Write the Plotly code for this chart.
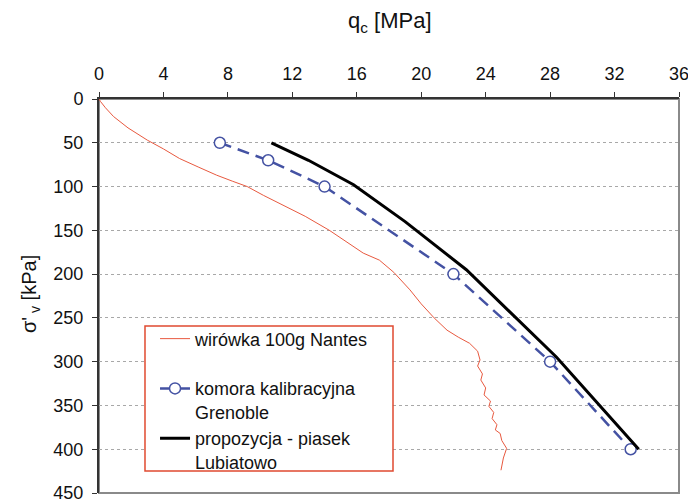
import plotly.graph_objects as go

# Data
red_q = [0, 0.1, 0.4, 0.9, 1.8, 3.0, 4.0, 5.0, 6.2, 7.3, 8.3, 9.2, 10.2, 11.2, 12.8, 14.3, 15.4, 16.4,
         17.4, 18.3, 19.3, 20.0, 20.8, 21.6, 22.3, 23.0, 23.5, 23.65, 23.5, 23.8, 23.7, 24.0, 23.9, 24.3,
         24.2, 24.5, 24.4, 24.7, 24.6, 24.9, 25.0, 25.3, 25.1, 24.95]
red_s = [0, 3, 10, 20, 33, 47, 57, 68, 78, 87, 94, 100, 110, 119, 134, 150, 164, 176,
         184, 198, 218, 234, 250, 264, 272, 279, 288, 298, 305, 314, 321, 330, 338, 345,
         351, 358, 365, 372, 378, 382, 390, 399, 410, 424]

blue_q = [7.5, 10.5, 14.0, 22.0, 28.0, 33.0]
blue_s = [50, 70, 100, 200, 300, 400]

black_q = [10.7, 13.0, 15.8, 19.0, 22.8, 28.4, 33.5]
black_s = [50, 70, 98, 140, 195, 295, 400]

names = ["wirówka 100g Nantes<br> ", "komora kalibracyjna<br>Grenoble", "propozycja - piasek<br>Lubiatowo"]

x_ticks = list(range(0, 37, 4))
y_ticks = list(range(0, 451, 50))

FONT = "Liberation Sans, Arial, sans-serif"

fig = go.Figure()
fig.add_trace(go.Scatter(x=red_q, y=red_s, mode="lines", name=names[0],
                         line=dict(color="#e8593f", width=1)))
fig.add_trace(go.Scatter(x=blue_q, y=blue_s, mode="lines+markers", name=names[1],
                         line=dict(color="#4452a3", width=2.5, dash="12px,7px"),
                         marker=dict(symbol="circle", size=11, color="white",
                                     line=dict(color="#4452a3", width=1.5))))
fig.add_trace(go.Scatter(x=black_q, y=black_s, mode="lines", name=names[2],
                         line=dict(color="black", width=3)))

# grey right/bottom frame
fig.add_shape(type="rect", xref="paper", yref="paper", x0=0, x1=1, y0=0, y1=1,
              line=dict(color="#8a8a8a", width=2), layer="below")
# legend box
fig.add_shape(type="rect", xref="paper", yref="paper", x0=0.0793, x1=0.5069, y0=0.0558, y1=0.4239,
              line=dict(color="#e04a30", width=1.5), fillcolor="white", layer="above")

fig.update_layout(
    width=688, height=502,
    margin=dict(l=99, r=9, t=99, b=9, autoexpand=False),
    plot_bgcolor="white", paper_bgcolor="white",
    font=dict(family=FONT, size=18, color="#111"),
    showlegend=True,
    legend=dict(x=0.0966, y=0.438, xanchor="left", yanchor="top",
                bgcolor="rgba(0,0,0,0)", borderwidth=0,
                font=dict(family=FONT, size=18, color="#111"),
                valign="top", tracegroupgap=0, itemwidth=30),
    xaxis=dict(range=[0, 36], side="top", tickvals=x_ticks, ticktext=[str(v) for v in x_ticks],
               ticks="outside", ticklen=5, tickcolor="#333", showgrid=False,
               showline=True, linecolor="#333", linewidth=2, zeroline=False, automargin=False,
               ticklabelstandoff=5, ticklabeloverflow="allow", tickfont=dict(size=18)),
    yaxis=dict(range=[450, 0], tickvals=y_ticks, ticktext=[str(v) for v in y_ticks],
               ticks="outside", ticklen=5, tickcolor="#333",
               showgrid=True, gridcolor="#a8a8a8", griddash="dot", gridwidth=1,
               showline=True, linecolor="#333", linewidth=2, zeroline=False, automargin=False,
               ticklabelstandoff=5, ticklabeloverflow="allow", tickfont=dict(size=18)),
    annotations=[
        dict(text="q<sub>c</sub> [MPa]", xref="paper", yref="paper", x=0.502, y=1.195,
             xanchor="center", yanchor="middle", showarrow=False, font=dict(size=22)),
        dict(text="σ'<sub> v</sub> [kPa]", xref="paper", yref="paper", x=-0.119, y=0.505,
             xanchor="center", yanchor="middle", showarrow=False, textangle=-90,
             font=dict(size=20)),
    ],
)

fig.write_html("out.html", config={"displayModeBar": False},
               post_script="document.body.style.margin='0';")
